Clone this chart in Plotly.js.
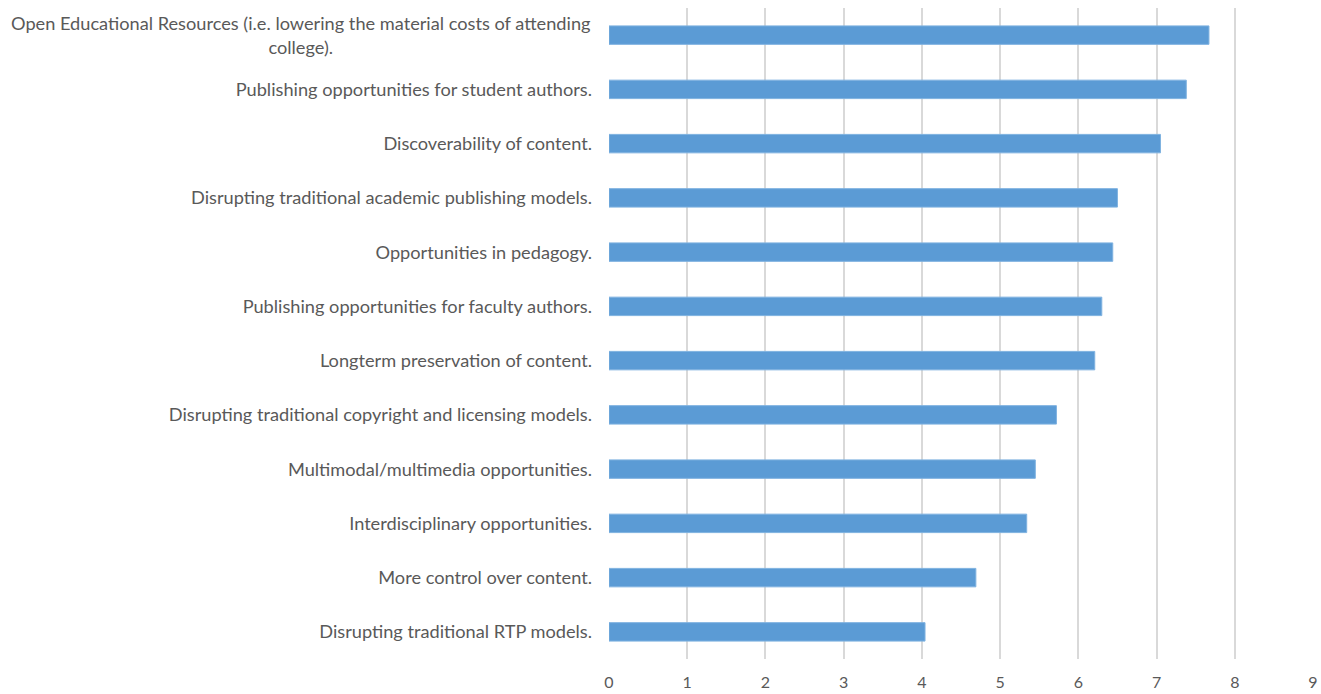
<!DOCTYPE html>
<html>
<head>
<meta charset="utf-8">
<script src="https://cdn.plot.ly/plotly-3.0.1.min.js"></script>
<style>html,body{margin:0;padding:0;background:#fff;}#chart{width:1321px;height:694px;}</style>
</head>
<body>
<div id="chart"></div>
<script>
const categories = [
  "Disrupting traditional RTP models.",
  "More control over content.",
  "Interdisciplinary opportunities.",
  "Multimodal/multimedia opportunities.",
  "Disrupting traditional copyright and licensing models.",
  "Longterm preservation of content.",
  "Publishing opportunities for faculty authors.",
  "Opportunities in pedagogy.",
  "Disrupting traditional academic publishing models.",
  "Discoverability of content.",
  "Publishing opportunities for student authors.",
  "Open Educational Resources (i.e. lowering the material costs of attending<br>college)."
];
const values = [4.04, 4.69, 5.34, 5.45, 5.72, 6.21, 6.30, 6.44, 6.50, 7.05, 7.38, 7.67];
const xTicks = [0, 1, 2, 3, 4, 5, 6, 7, 8, 9];

const font = "Lato, 'Open Sans', sans-serif";
const labelSize = 18.2;
// multi-line labels are centred (as in the reference), single-line ones use the axis
const multi = categories.filter(c => c.includes('<br>'));
const annotations = multi.map(c => ({
  xref: 'paper', yref: 'y', x: 0, y: c, xanchor: 'right', yanchor: 'middle',
  xshift: -16, text: c, align: 'center', showarrow: false,
  font: {family: font, size: labelSize, color: '#595959'}
}));

Plotly.newPlot('chart', [{
  type: 'bar',
  orientation: 'h',
  y: categories,
  x: values,
  marker: {color: '#5B9BD5', line: {color: '#7FB2E0', width: 1}},
  hoverinfo: 'x+y'
}], {
  width: 1321, height: 694,
  margin: {l: 609, r: 8, t: 8, b: 35},
  paper_bgcolor: '#fff', plot_bgcolor: '#fff',
  bargap: 0.66,
  showlegend: false,
  font: {family: font, color: '#595959', size: 16},
  annotations: annotations,
  xaxis: {
    range: [0, 9], tickvals: xTicks, ticktext: xTicks.map(String),
    showgrid: true, gridcolor: '#D9D9D9', gridwidth: 2,
    zeroline: false, showline: false, ticks: '',
    ticklabelstandoff: 12,
    tickfont: {family: font, size: 16, color: '#595959'},
    fixedrange: true
  },
  yaxis: {
    type: 'category', showgrid: false, zeroline: false, showline: false,
    ticks: '', ticklabelstandoff: 16,
    tickvals: categories,
    ticktext: categories.map(c => c.includes('<br>') ? '' : c),
    tickfont: {family: font, size: labelSize, color: '#595959'},
    automargin: false, fixedrange: true
  }
}, {displayModeBar: false, staticPlot: true});
</script>
</body>
</html>
